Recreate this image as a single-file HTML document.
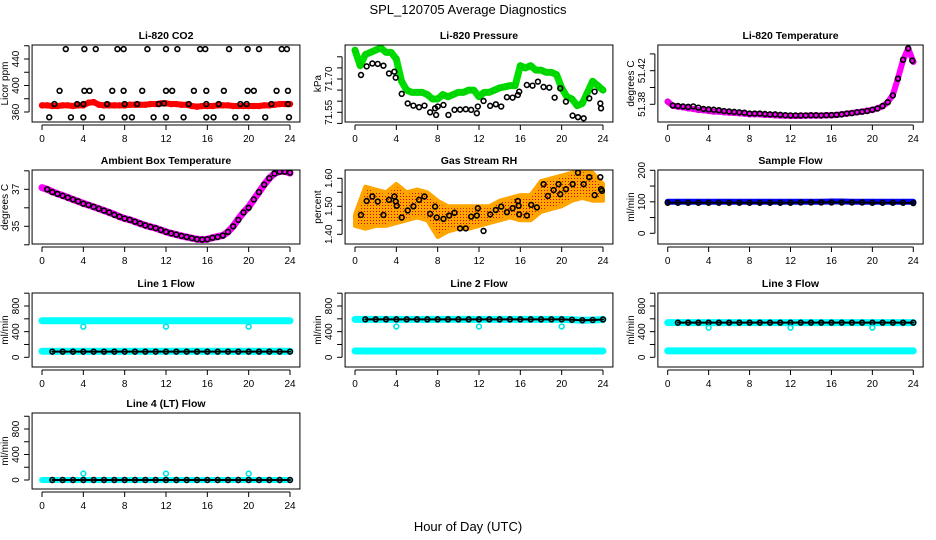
<!DOCTYPE html>
<html><head><meta charset="utf-8">
<style>
html,body{margin:0;padding:0;background:#fff;}
svg{display:block;font-family:"Liberation Sans",sans-serif;}
</style></head>
<body>
<svg id="chart" width="936" height="540" viewBox="0 0 936 540" xmlns="http://www.w3.org/2000/svg">
<rect x="0" y="0" width="936" height="540" fill="#fff"/>
<text x="468" y="14" text-anchor="middle" font-size="13">SPL_120705  Average Diagnostics</text>
<text x="468" y="531" text-anchor="middle" font-size="13">Hour of Day (UTC)</text>
</svg>
<script>
// ---------- data ----------
const xTicks = [0,4,8,12,16,20,24];
const halfHours = [0,0.5,1,1.5,2,2.5,3,3.5,4,4.5,5,5.5,6,6.5,7,7.5,8,8.5,9,9.5,10,10.5,11,11.5,12,12.5,13,13.5,14,14.5,15,15.5,16,16.5,17,17.5,18,18.5,19,19.5,20,20.5,21,21.5,22,22.5,23,23.5,24];
const hours = [0,1,2,3,4,5,6,7,8,9,10,11,12,13,14,15,16,17,18,19,20,21,22,23,24];

// CO2
const co2Red = [370,370,369,369,370,370,369,370,370,374,375,371,370,370,370,370,370,371,371,371,371,372,372,373,373,372,372,371,371,369,368,369,369,369,370,370,370,369,369,369,369,369,369,370,370,371,372,372,372];
const co2TopHours = [2.3,4.1,5.2,7.3,7.9,10.2,12.0,13.1,15.3,15.8,18.1,19.9,21.0,23.2,23.7];
const co2TopVals = [455,455,455,455,455,455,455,455,455,455,455,455,455,455,455];
const co2MidHours = [1.7,4.1,4.6,6.8,7.9,9.7,12.0,12.6,14.7,15.9,17.6,19.9,20.5,22.7,23.8];
const co2MidVals = [392,392,392,392,392,392,392,392,392,392,392,392,392,392,392];
const co2LowHours = [0.7,2.8,4.0,5.8,8.0,8.7,10.8,12.0,13.7,15.9,16.6,18.7,19.8,21.6,23.9];
const co2LowVals = [352,352,352,352,352,352,352,352,352,352,352,352,352,352,352];
const co2BandHours = [1.2,3.4,4.0,6.3,8.0,9.2,11.3,11.8,14.2,15.9,17.1,19.2,19.8,22.2,23.8];
const co2BandVals = [372,372,372,372,372,372,372,373,372,372,372,372,372,372,372];

// Pressure
const presGreen = [71.83,71.76,71.81,71.82,71.83,71.84,71.82,71.82,71.79,71.69,71.65,71.64,71.64,71.64,71.63,71.61,71.61,71.63,71.62,71.63,71.64,71.64,71.65,71.65,71.62,71.64,71.64,71.65,71.66,71.665,71.67,71.67,71.76,71.75,71.76,71.74,71.74,71.73,71.73,71.72,71.66,71.62,71.61,71.58,71.59,71.64,71.69,71.67,71.65];
const presBlackHours = [0.58,1.13,1.68,2.2,2.75,3.29,3.81,3.94,4.52,5.1,5.65,6.2,6.72,7.27,7.75,7.85,8.01,8.56,9.04,9.63,10.17,10.72,11.24,11.79,11.89,12.44,13.08,13.63,14.15,14.7,15.25,15.76,15.89,16.63,17.18,17.7,18.25,18.8,19.32,19.86,20.41,21.06,21.58,22.13,22.67,23.19,23.74,23.81];
const presBlackVals = [71.718,71.757,71.770,71.768,71.760,71.725,71.733,71.706,71.633,71.590,71.580,71.573,71.580,71.550,71.568,71.538,71.576,71.583,71.538,71.561,71.562,71.564,71.561,71.546,71.576,71.601,71.579,71.586,71.576,71.618,71.616,71.628,71.643,71.673,71.670,71.688,71.664,71.661,71.616,71.658,71.598,71.535,71.528,71.523,71.613,71.643,71.590,71.568];

// Li-820 temperature
const tempMag = [51.3832,51.3784,51.3772,51.3764,51.3752,51.3745,51.3733,51.3729,51.3721,51.3713,51.3713,51.3705,51.3701,51.3697,51.3693,51.3689,51.3681,51.3681,51.3681,51.3673,51.3673,51.3669,51.3665,51.3665,51.3661,51.3661,51.3661,51.3665,51.3665,51.3665,51.3665,51.3669,51.3669,51.3673,51.3681,51.3689,51.3697,51.3705,51.3713,51.3725,51.3733,51.3752,51.3776,51.3824,51.3911,51.4109,51.4327,51.4465,51.4307];
const tempBlackHours = [0.5,1,1.5,2,2.5,3,3.5,4,4.5,5,5.5,6,6.5,7,7.5,8,8.5,9,9.5,10,10.5,11,11.5,12,12.5,13,13.5,14,14.5,15,15.5,16,16.5,17,17.5,18,18.5,19,19.5,20,20.5,21,21.5,22,22.5,23,23.5,23.9];
const tempBlackVals = [51.3785,51.378,51.3775,51.377,51.3775,51.376,51.3745,51.374,51.3735,51.373,51.372,51.3715,51.371,51.3705,51.37,51.369,51.369,51.369,51.3685,51.368,51.368,51.3675,51.367,51.3668,51.3668,51.3668,51.3668,51.367,51.367,51.3668,51.367,51.3672,51.3675,51.368,51.369,51.3695,51.3705,51.3712,51.372,51.3735,51.375,51.378,51.3825,51.3905,51.4105,51.433,51.4465,51.432];

// Ambient box temperature
const ambMag = [37.09,37.0,36.87,36.76,36.66,36.56,36.45,36.35,36.24,36.15,36.05,35.95,35.85,35.75,35.65,35.52,35.42,35.35,35.25,35.15,35.05,34.97,34.9,34.8,34.7,34.62,34.55,34.48,34.42,34.36,34.3,34.28,34.3,34.38,34.45,34.5,34.7,35.0,35.4,35.75,36.05,36.45,36.85,37.25,37.6,37.85,37.97,37.97,37.88];
const ambBlack = [37.0,36.85,36.75,36.65,36.55,36.45,36.35,36.22,36.15,36.05,35.95,35.85,35.75,35.62,35.52,35.42,35.35,35.25,35.15,35.05,34.97,34.9,34.8,34.7,34.62,34.55,34.48,34.42,34.36,34.3,34.28,34.3,34.38,34.42,34.5,34.7,35.0,35.35,35.75,36.0,36.45,36.85,37.25,37.6,37.85,37.95,37.95,37.9];

// Gas stream RH
const rhLow = [1.43,1.42,1.43,1.43,1.44,1.45,1.46,1.45,1.39,1.41,1.42,1.42,1.43,1.44,1.45,1.46,1.45,1.45,1.48,1.49,1.50,1.52,1.53,1.52,1.52];
const rhHigh = [1.47,1.57,1.56,1.55,1.58,1.55,1.56,1.55,1.52,1.50,1.50,1.50,1.50,1.50,1.52,1.53,1.54,1.54,1.59,1.60,1.61,1.62,1.63,1.62,1.58];
const rhBlackHours = [0.58,1.13,1.68,2.2,2.75,3.29,3.81,3.94,4.04,4.52,5.1,5.65,6.2,6.72,7.27,7.75,7.91,8.56,9.11,9.63,10.17,10.72,11.24,11.79,11.89,12.44,13.08,13.63,14.15,14.7,15.25,15.76,15.83,15.89,16.63,17.05,17.6,18.25,18.67,19.22,19.7,19.86,20.41,21.06,21.58,22.13,22.67,23.19,23.74,23.81,23.9];
const rhBlackVals = [1.469,1.519,1.535,1.517,1.469,1.523,1.535,1.517,1.502,1.460,1.485,1.500,1.523,1.535,1.473,1.499,1.460,1.455,1.467,1.477,1.421,1.421,1.463,1.467,1.493,1.412,1.471,1.487,1.499,1.479,1.493,1.519,1.502,1.471,1.467,1.505,1.496,1.579,1.537,1.558,1.579,1.543,1.561,1.579,1.620,1.579,1.604,1.540,1.604,1.561,1.555];

// Sample flow
const sampleBlue = [100,100,100,100,100,100,100,100,100,100,100,100,100,100,100,100,101,101,100,100,100,100,100,100,100];
const sampleBlack = [97,97,97,97,97,97,97,97,97,97,97,97,97,98,98,98,98,98,98,98,97,97,97,97,96];

// Line flows
const dipHours = [4,12,20];
const line1Cyan = [570,570,570,570,570,570,570,570,570,570,570,570,570,570,570,570,570,570,570,570,570,570,570,570,570];
const line1CyanLow = [95,95,95,95,95,95,95,95,95,95,95,95,95,95,95,95,95,95,95,95,95,95,95,95,95];
const line1Black = [88,88,88,88,88,88,88,88,88,88,88,88,88,88,88,88,88,88,88,88,88,88,88,88,88];
const line1Dips = [478,478,478];
const line2CyanLow = [99,99,99,99,99,99,99,99,99,99,99,99,99,99,99,99,99,99,99,99,99,99,99,99,99];
const line2Black = [592,592,592,592,592,592,592,592,592,592,592,592,592,592,592,592,592,592,592,592,592,585,578,582,590];
const line2Dips = [480,480,480];
const line3CyanLow = [100,100,100,100,100,100,100,100,100,100,100,100,100,100,100,100,100,100,100,100,100,100,100,100,100];
const line3Black = [540,540,540,540,540,540,540,540,540,540,540,540,540,540,540,540,540,540,540,540,540,540,540,540,540];
const line3Dips = [462,462,462];
const line4Black = [0,0,0,0,0,0,0,0,0,0,0,0,0,0,0,0,0,0,0,0,0,0,0,0,0];
const line4Dips = [100,100,100];

// ---------- drawing ----------
const svg = document.getElementById('chart');
const NS = 'http://www.w3.org/2000/svg';
function mk(tag, attrs, parent){
  const e = document.createElementNS(NS, tag);
  for (const k in attrs) e.setAttribute(k, attrs[k]);
  (parent||svg).appendChild(e);
  return e;
}
const cols = [{x0:42,x24:290},{x0:355,x24:603},{x0:667.7,x24:913.3}];
const rows = [{t:45,b:122},{t:170,b:244},{t:293,b:367},{t:413,b:489}];

function panel(cfg){
  const c = cols[cfg.col], r = rows[cfg.row];
  const pxh = (c.x24-c.x0)/24;
  const L = c.x0 - pxh*0.96, R = c.x24 + pxh*0.96;
  const X = h => c.x0 + h*pxh;
  const Y = v => cfg.p1 + (v-cfg.v1)*(cfg.p2-cfg.p1)/(cfg.v2-cfg.v1);
  const g = mk('g', {});
  
  
  const clipId = 'clip-'+cfg.name;
  const cp = mk('clipPath', {id:clipId}, g);
  mk('rect', {x:L, y:r.t, width:R-L, height:r.b-r.t}, cp);
  const plot = mk('g', {'clip-path':'url(#'+clipId+')'}, g);
  
  
  const box = mk('rect', {x:L, y:r.t, width:R-L, height:r.b-r.t, fill:'none', stroke:'#000', 'stroke-width':1}, g);
  
  
  const t = mk('text', {x:(L+R)/2, y:r.t-6, 'text-anchor':'middle', 'font-size':10.5, 'font-weight':'bold'}, g);
  t.textContent = cfg.title;
  
  
  // x axis
  const xa = mk('g', {}, g);
  
  
  mk('line', {x1:X(0), x2:X(24), y1:r.b+3, y2:r.b+3, stroke:'#000'}, xa);
  xTicks.forEach(v=>{
    mk('line', {x1:X(v), x2:X(v), y1:r.b+3, y2:r.b+8, stroke:'#000'}, xa);
    const tl = mk('text', {x:X(v), y:r.b+20, 'text-anchor':'middle', 'font-size':10}, xa);
    tl.textContent = v;
    
    
  });
  // y axis
  const ya = mk('g', {}, g);
  
  
  const ax = L-3;
  mk('line', {x1:ax, x2:ax, y1:Y(cfg.ticks[0]), y2:Y(cfg.ticks[cfg.ticks.length-1]), stroke:'#000'}, ya);
  cfg.ticks.forEach(v=>{
    mk('line', {x1:ax-5, x2:ax, y1:Y(v), y2:Y(v), stroke:'#000'}, ya);
  });
  cfg.labels.forEach(v=>{
    const lx = ax-10, ly = Y(v);
    const tl = mk('text', {x:lx, y:ly, 'text-anchor':'middle', 'font-size':10, transform:'rotate(-90 '+lx+' '+ly+')'}, ya);
    tl.textContent = cfg.fmt ? v.toFixed(cfg.fmt) : v;
    
    
  });
  const yl = mk('text', {x:L-24, y:(r.t+r.b)/2, 'text-anchor':'middle', 'font-size':10, transform:'rotate(-90 '+(L-24)+' '+((r.t+r.b)/2)+')'}, g);
  yl.textContent = cfg.ylab;
  
  
  return {X, Y, plot};
}
function band(p, hs, vs, color, w, name){
  const pts = hs.map((h,i)=>p.X(h)+','+p.Y(vs[i])).join(' ');
  const pl = mk('polyline', {points:pts, fill:'none', stroke:color, 'stroke-width':w, 'stroke-linejoin':'round', 'stroke-linecap':'round'}, p.plot);
  
  
}
function pts(p, hs, vs, color, name, rad){
  hs.forEach((h,i)=>{
    const c = mk('circle', {cx:p.X(h), cy:p.Y(vs[i]), r:rad||2.4, fill:'none', stroke:color, 'stroke-width':1.6}, p.plot);
    
    
  });
}

// CO2
let p = panel({name:'co2-panel', col:0, row:0, title:'Li-820 CO2', ylab:'Licor ppm', v1:360, p1:112, v2:440, p2:59, ticks:[360,380,400,420,440,460], labels:[360,400,440]});
band(p, halfHours, co2Red, '#f00', 6, 'co2-red-series');
pts(p, halfHours, co2Red, '#f00', 'co2-red-point');
pts(p, co2TopHours, co2TopVals, '#000', 'co2-black-point');
pts(p, co2MidHours, co2MidVals, '#000', 'co2-black-point');
pts(p, co2LowHours, co2LowVals, '#000', 'co2-black-point');
pts(p, co2BandHours, co2BandVals, '#000', 'co2-black-point');

// Pressure
p = panel({name:'pressure-panel', col:1, row:0, title:'Li-820 Pressure', ylab:'kPa', v1:71.55, p1:112.3, v2:71.70, p2:79, ticks:[71.50,71.55,71.60,71.65,71.70,71.75,71.80], labels:[71.55,71.70], fmt:2});
band(p, halfHours, presGreen, '#00e000', 7, 'pressure-green-series');
pts(p, halfHours, presGreen, '#00d000', 'pressure-green-point');
pts(p, presBlackHours, presBlackVals, '#000', 'pressure-black-point');

// Temperature
p = panel({name:'li820-temperature-panel', col:2, row:0, title:'Li-820 Temperature', ylab:'degrees C', v1:51.38, p1:104.3, v2:51.42, p2:70.7, ticks:[51.38,51.40,51.42,51.44], labels:[51.38,51.42], fmt:2});
band(p, halfHours, tempMag, '#f0f', 6, 'temperature-magenta-series');
pts(p, halfHours, tempMag, '#e000e0', 'temperature-magenta-point');
pts(p, tempBlackHours, tempBlackVals, '#000', 'temperature-black-point');

// Ambient
p = panel({name:'ambient-box-temperature-panel', col:0, row:1, title:'Ambient Box Temperature', ylab:'degrees C', v1:37, p1:189.3, v2:35, p2:226.3, ticks:[34,35,36,37,38], labels:[35,37]});
band(p, halfHours, ambMag, '#f0f', 7, 'ambient-magenta-series');
pts(p, halfHours.slice(1), ambBlack, '#000', 'ambient-black-point');

// RH
p = panel({name:'gas-stream-rh-panel', col:1, row:1, title:'Gas Stream RH', ylab:'percent', v1:1.60, p1:178.3, v2:1.40, p2:234.3, ticks:[1.40,1.45,1.50,1.55,1.60], labels:[1.40,1.50,1.60], fmt:2});
(function(){
  const defs = mk('defs', {});
  const pat = mk('pattern', {id:'rhpat', width:3, height:3, patternUnits:'userSpaceOnUse'}, defs);
  mk('rect', {x:0, y:0, width:3, height:3, fill:'#ffa500'}, pat);
  mk('rect', {x:1, y:1, width:1, height:1, fill:'#e00000'}, pat);
  const up = hours.map((h,i)=>p.X(h)+','+p.Y(rhHigh[i]));
  const dn = hours.map((h,i)=>p.X(h)+','+p.Y(rhLow[i])).reverse();
  const poly = mk('polygon', {points:up.concat(dn).join(' '), fill:'url(#rhpat)', stroke:'#ffa500', 'stroke-width':4, 'stroke-linejoin':'round'}, p.plot);
  
  
})();
pts(p, rhBlackHours, rhBlackVals, '#000', 'rh-black-point');

// Sample flow
p = panel({name:'sample-flow-panel', col:2, row:1, title:'Sample Flow', ylab:'ml/min', v1:0, p1:233.3, v2:200, p2:170.3, ticks:[0,50,100,150,200], labels:[0,100,200]});
band(p, hours, sampleBlue, '#0000ff', 6, 'sample-blue-series');
band(p, hours, sampleBlack, '#000', 2, 'sample-black-line');
pts(p, hours, sampleBlack, '#000', 'sample-black-point');

// Line flows
const flowTicks = [0,200,400,600,800,1000], flowLabels=[0,400,800];
p = panel({name:'line1-flow-panel', col:0, row:2, title:'Line 1 Flow', ylab:'ml/min', v1:0, p1:357.3, v2:800, p2:306, ticks:flowTicks, labels:flowLabels});
band(p, hours, line1Cyan, '#00ffff', 7, 'line1-cyan-high-series');
band(p, hours, line1CyanLow, '#00ffff', 7, 'line1-cyan-low-series');
band(p, hours.slice(1), line1Black.slice(1), '#000', 2, 'line1-black-line');
pts(p, hours.slice(1), line1Black.slice(1), '#000', 'line1-black-point');
pts(p, dipHours, line1Dips, '#00e5e5', 'line1-cyan-dip');

p = panel({name:'line2-flow-panel', col:1, row:2, title:'Line 2 Flow', ylab:'ml/min', v1:0, p1:357.3, v2:800, p2:306, ticks:flowTicks, labels:flowLabels});
band(p, hours, line2Black, '#00ffff', 7, 'line2-cyan-high-series');
band(p, hours, line2CyanLow, '#00ffff', 7, 'line2-cyan-low-series');
band(p, hours.slice(1), line2Black.slice(1), '#000', 2, 'line2-black-line');
pts(p, hours.slice(1), line2Black.slice(1), '#000', 'line2-black-point');
pts(p, dipHours, line2Dips, '#00e5e5', 'line2-cyan-dip');

p = panel({name:'line3-flow-panel', col:2, row:2, title:'Line 3 Flow', ylab:'ml/min', v1:0, p1:357.3, v2:800, p2:306, ticks:flowTicks, labels:flowLabels});
band(p, hours, line3Black, '#00ffff', 7, 'line3-cyan-high-series');
band(p, hours, line3CyanLow, '#00ffff', 7, 'line3-cyan-low-series');
band(p, hours.slice(1), line3Black.slice(1), '#000', 2, 'line3-black-line');
pts(p, hours.slice(1), line3Black.slice(1), '#000', 'line3-black-point');
pts(p, dipHours, line3Dips, '#00e5e5', 'line3-cyan-dip');

p = panel({name:'line4-flow-panel', col:0, row:3, title:'Line 4 (LT) Flow', ylab:'ml/min', v1:0, p1:480, v2:800, p2:429, ticks:flowTicks, labels:flowLabels});
band(p, hours, line4Black, '#00ffff', 6, 'line4-cyan-series');
band(p, hours.slice(1), line4Black.slice(1), '#000', 2, 'line4-black-line');
pts(p, hours.slice(1), line4Black.slice(1), '#000', 'line4-black-point');
pts(p, dipHours, line4Dips, '#00e5e5', 'line4-cyan-dip');
</script>
</body></html>
